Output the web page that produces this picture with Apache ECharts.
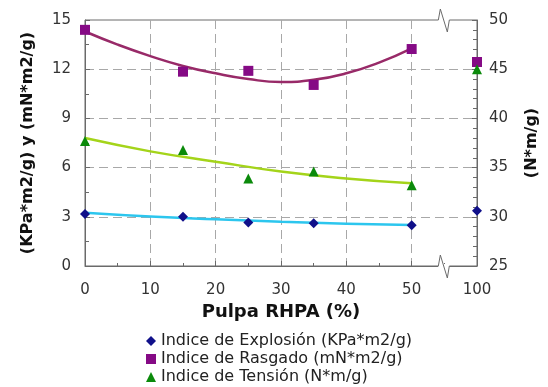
<!DOCTYPE html>
<html>
<head>
<meta charset="utf-8">
<script src="https://cdn.jsdelivr.net/npm/echarts@6/dist/echarts.min.js"></script>
<style>
	html, body { margin: 0; padding: 0; background: #fff; }
	#chart { width: 548px; height: 387px; }
</style>
</head>
<body>
<div id="chart"></div>
<script>
	// measured points (% RHPA pulp)
	var pulpa = [0, 15, 25, 35, 50, 100];
	var explosion = [3.17, 3.0, 2.66, 2.6, 2.48, 3.37];      // KPa*m2/g (left)
	var rasgado = [14.4, 11.85, 11.9, 11.04, 13.23, 12.44];   // mN*m2/g (left)
	var tension = [37.7, 36.8, 33.9, 34.6, 33.2, 45.0];       // N*m/g (right)

	// trend curves
	var trendRasgadoX = [0, 5, 10, 15, 20, 25, 30, 35, 40, 45, 50];
	var trendRasgado = [14.3, 13.5, 12.8, 12.2, 11.75, 11.4, 11.22, 11.35, 11.75, 12.4, 13.27];
	var trendX = [0, 10, 20, 30, 40, 50];
	var trendTension = [38.0, 36.65, 35.6, 34.6, 33.9, 33.4];
	var trendExplosion = [3.25, 3.02, 2.85, 2.7, 2.58, 2.5];

	var names = ['Indice de Explosión (KPa*m2/g)', 'Indice de Rasgado (mN*m2/g)', 'Indice de Tensión (N*m/g)'];

	// broken x axis: 50..100 is squeezed into 50..60
	function toAxis(v) { return v > 50 ? v - 40 : v; }
	function fromAxis(v) { return v > 50 ? v + 40 : v; }

	function pairs(xs, ys) {
		return xs.map(function (x, i) { return [toAxis(x), ys[i]]; });
	}

	var font = 'DejaVu Sans';
	var axisColor = '#6a6a6a';

	var myChart = echarts.init(document.getElementById('chart'));
	var option = {
		animation: false,
		grid: {
			show: true,
			left: 85,
			right: 67,
			top: 20,
			bottom: 121,
			borderColor: axisColor,
			borderWidth: 1
		},
		legend: {
			orient: 'vertical',
			left: 146,
			top: 333,
			height: 54,
			itemWidth: 10,
			itemHeight: 10,
			itemGap: 2,
			padding: 0,
			data: names,
			textStyle: { fontFamily: font, fontSize: 16, lineHeight: 16, color: '#222' }
		},
		xAxis: {
			type: 'value',
			min: 0,
			max: 60,
			interval: 10,
			name: 'Pulpa RHPA (%)',
			nameLocation: 'middle',
			nameGap: 36,
			nameTextStyle: { fontFamily: font, fontSize: 18, fontWeight: 'bold', color: '#111' },
			axisLine: { lineStyle: { color: axisColor } },
			axisTick: { inside: true, length: 5, lineStyle: { color: axisColor } },
			minorTick: { show: true, splitNumber: 2, length: 3, lineStyle: { color: axisColor } },
			axisLabel: {
				margin: 17,
				fontFamily: font,
				fontSize: 15,
				color: '#333',
				formatter: function (v) { return String(fromAxis(v)); }
			},
			splitLine: {
				show: true,
				showMinLine: false,
				showMaxLine: false,
				lineStyle: { color: '#a8a8a8', type: [9, 5] }
			}
		},
		yAxis: [
			{
				type: 'value',
				min: 0,
				max: 15,
				interval: 3,
				name: '(KPa*m2/g) y (mN*m2/g)',
				nameLocation: 'middle',
				nameRotate: 90,
				nameGap: 49,
				nameTextStyle: { fontFamily: font, fontSize: 16, fontWeight: 'bold', color: '#111' },
				axisLine: { show: true, lineStyle: { color: axisColor } },
				axisTick: { show: true, inside: true, length: 5, lineStyle: { color: axisColor } },
				minorTick: { show: true, splitNumber: 2, length: 4, lineStyle: { color: axisColor } },
				axisLabel: { margin: 14, fontFamily: font, fontSize: 15, color: '#333' },
				splitLine: {
					show: true,
					showMinLine: false,
					showMaxLine: false,
					lineStyle: { color: '#a8a8a8', type: [9, 5] }
				}
			},
			{
				type: 'value',
				position: 'right',
				min: 25,
				max: 50,
				interval: 5,
				name: '(N*m/g)',
				nameLocation: 'middle',
				nameRotate: 90,
				nameGap: 47,
				nameTextStyle: { fontFamily: font, fontSize: 16, fontWeight: 'bold', color: '#111' },
				axisLine: { show: true, lineStyle: { color: axisColor } },
				axisTick: { show: true, inside: true, length: 5, lineStyle: { color: axisColor } },
				minorTick: { show: true, splitNumber: 5, length: 4, lineStyle: { color: axisColor } },
				axisLabel: { margin: 12, fontFamily: font, fontSize: 15, color: '#333' },
				splitLine: { show: false }
			}
		],
		series: [
			{
				name: 'trendRasgado',
				type: 'line',
				data: pairs(trendRasgadoX, trendRasgado),
				smooth: true,
				showSymbol: false,
				lineStyle: { color: '#982a68', width: 2.5 },
				z: 2
			},
			{
				name: 'trendTension',
				type: 'line',
				yAxisIndex: 1,
				data: pairs(trendX, trendTension),
				smooth: true,
				showSymbol: false,
				lineStyle: { color: '#a4d41a', width: 2.5 },
				z: 2
			},
			{
				name: 'trendExplosion',
				type: 'line',
				data: pairs(trendX, trendExplosion),
				smooth: true,
				showSymbol: false,
				lineStyle: { color: '#2cc6ee', width: 2.5 },
				z: 2
			},
			{
				name: names[0],
				type: 'scatter',
				data: pairs(pulpa, explosion),
				symbol: 'diamond',
				symbolSize: 10,
				itemStyle: { color: '#10108a', opacity: 1 },
				z: 5
			},
			{
				name: names[1],
				type: 'scatter',
				data: pairs(pulpa, rasgado),
				symbol: 'rect',
				symbolSize: 10,
				itemStyle: { color: '#850a85', opacity: 1 },
				z: 5
			},
			{
				name: names[2],
				type: 'scatter',
				yAxisIndex: 1,
				data: pairs(pulpa, tension),
				symbol: 'triangle',
				symbolSize: 10,
				itemStyle: { color: '#0b8a0b', opacity: 1 },
				z: 5
			}
		]
	};
	myChart.setOption(option);

	// axis break marks on the top and bottom frame
	var bx = myChart.convertToPixel({ xAxisIndex: 0 }, 55);
	var topY = myChart.convertToPixel({ yAxisIndex: 0 }, 15);
	var botY = myChart.convertToPixel({ yAxisIndex: 0 }, 0);
	function breakMark(y) {
		return [
			{
				type: 'rect',
				shape: { x: bx - 6, y: y - 2, width: 11, height: 4 },
				style: { fill: '#fff' },
				z: 100
			},
			{
				type: 'polyline',
				shape: { points: [[bx - 6, y], [bx - 4, y - 11], [bx + 3, y + 12], [bx + 5, y]] },
				style: { stroke: axisColor, lineWidth: 1, fill: null },
				z: 101
			}
		];
	}
	myChart.setOption({ graphic: breakMark(topY).concat(breakMark(botY)) });
</script>
</body>
</html>
